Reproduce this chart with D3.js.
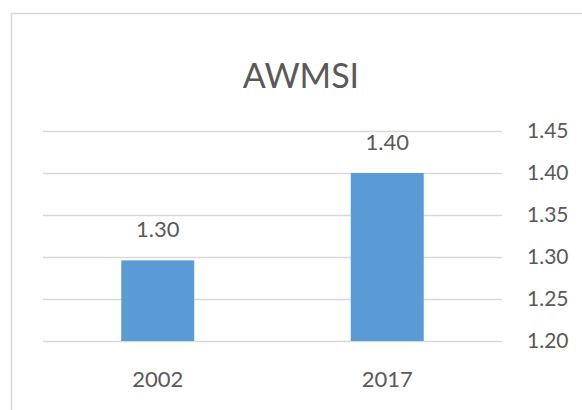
<!DOCTYPE html>
<html>
<head>
<meta charset="utf-8">
<script src="https://cdn.jsdelivr.net/npm/d3@7"></script>
<style>
  html, body { margin: 0; padding: 0; background: #fff; }
  svg { display: block; }
  text { font-family: Lato, "Open Sans", sans-serif; fill: #595959; }
</style>
</head>
<body>
<svg id="chart" width="582" height="410"></svg>
<script>
// AWMSI by year
const categories = ["2002", "2017"];
const values = [1.296, 1.40];
const tickValues = [1.20, 1.25, 1.30, 1.35, 1.40, 1.45];
const title = "AWMSI";

const svg = d3.select("#chart");
const W = 582, H = 410;
const plot = { left: 43, right: 502, top: 131, bottom: 341 };

// chart frame (runs past the right and bottom edges)
svg.append("rect")
  .attr("x", 11.5).attr("y", 13.5)
  .attr("width", W).attr("height", H)
  .attr("fill", "none").attr("stroke", "#d9d9d9").attr("stroke-width", 1.5);

const x = d3.scaleBand()
  .domain(categories)
  .range([plot.left, plot.right])
  .paddingInner(0.682)
  .paddingOuter(0.341);

const y = d3.scaleLinear()
  .domain([1.20, 1.45])
  .range([plot.bottom, plot.top]);

// gridlines + right-hand value axis
const yAxis = d3.axisRight(y)
  .tickValues(tickValues)
  .tickFormat(d3.format(".2f"))
  .tickSize(-(plot.right - plot.left))
  .tickPadding(25);

const gy = svg.append("g")
  .attr("transform", `translate(${plot.right},0)`)
  .call(yAxis);
gy.select(".domain").remove();
gy.selectAll(".tick line").attr("stroke", "#d9d9d9").attr("stroke-width", 1.5);
gy.selectAll(".tick text")
  .attr("fill", "#595959")
  .style("font-size", "21px")
  .style("font-family", "Lato, 'Open Sans', sans-serif");

// bars
svg.append("g").selectAll("rect")
  .data(categories)
  .join("rect")
  .attr("x", d => x(d))
  .attr("width", x.bandwidth())
  .attr("y", (d, i) => y(values[i]))
  .attr("height", (d, i) => y(1.20) - y(values[i]))
  .attr("fill", "#5b9bd5");

// value labels
svg.append("g").selectAll("text")
  .data(categories)
  .join("text")
  .attr("x", d => x(d) + x.bandwidth() / 2)
  .attr("y", (d, i) => y(values[i]) - 23)
  .attr("text-anchor", "middle")
  .style("font-size", "22px")
  .text((d, i) => d3.format(".2f")(values[i]));

// category axis
const gx = svg.append("g")
  .attr("transform", `translate(0,${plot.bottom})`)
  .call(d3.axisBottom(x).tickSize(0).tickPadding(30));
gx.select(".domain").remove();
gx.selectAll(".tick text")
  .attr("fill", "#595959")
  .style("font-size", "22px")
  .style("font-family", "Lato, 'Open Sans', sans-serif");

// title
svg.append("text")
  .attr("x", 301).attr("y", 88)
  .attr("text-anchor", "middle")
  .style("font-size", "34px")
  .text(title);
</script>
</body>
</html>
